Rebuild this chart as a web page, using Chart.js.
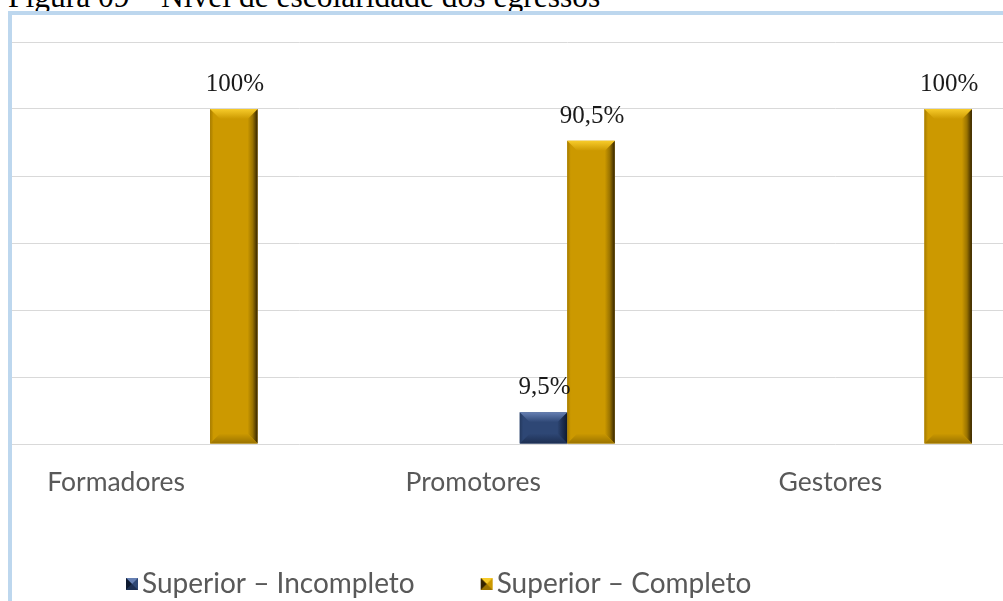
<!DOCTYPE html>
<html><head><meta charset="utf-8">
<script src="https://cdn.jsdelivr.net/npm/chart.js@4"></script>
<style>
html,body{margin:0;padding:0;background:#fff;overflow:hidden;width:1003px;height:601px;}
#title{position:absolute;left:8px;top:-19px;font:31.5px/31px "Liberation Serif","Times New Roman",serif;color:#000;white-space:nowrap;}
#frame{position:absolute;left:8px;top:11px;width:1100px;height:700px;border-left:4px solid #bdd7ee;border-top:4px solid #bdd7ee;}
#wrap{position:absolute;left:0;top:0;width:1103px;height:601px;}
</style></head><body>
<div id="title">Figura 09 – Nível de escolaridade dos egressos</div>
<div id="frame"></div>
<div id="wrap"><canvas id="c"></canvas></div>
<script>
// ---- data ----
const categories = ['Formadores', 'Promotores', 'Gestores'];
const seriesNames = ['Superior – Incompleto', 'Superior – Completo'];
const incompleto = [null, 9.5, null];
const completo = [100, 90.5, 100];
const yTickValues = [0, 20, 40, 60, 80, 100, 120];

// ---- styles ----
const NAVY = {base:'#2e4775', light:'#6680b3', dark:'#0e1a30', bottom:'#1d2f52', left:'#24395f'};
const GOLD = {base:'#cc9900', light:'#f7cb2a', dark:'#332300', bottom:'#9a7300', left:'#a57b00'};
const palettes = [NAVY, GOLD];
const GRID = '#d9d9d9';
const LEG_PAD = 66;          // spacing between legend items
const LEG_START = 126;       // x of first legend item
const FRAME_X = 12;

function legendIcon(p){
  const c = document.createElement('canvas'); c.width = 24; c.height = 12;
  const g = c.getContext('2d');
  const l = 11, r = 23, t = 0, b = 12, cx = 17, cy = 6;
  g.fillStyle = p.base; g.fillRect(l, t, 12, 12);
  g.fillStyle = p.light; g.beginPath(); g.moveTo(l,t); g.lineTo(r,t); g.lineTo(cx,cy); g.closePath(); g.fill();
  g.fillStyle = p.bottom; g.beginPath(); g.moveTo(l,b); g.lineTo(r,b); g.lineTo(cx,cy); g.closePath(); g.fill();
  g.fillStyle = p.dark; g.beginPath(); g.moveTo(l,t); g.lineTo(l,b); g.lineTo(cx,cy); g.closePath(); g.fill();
  return c;
}
const icons = palettes.map(legendIcon);

function poly(ctx, pts, fill){
  ctx.beginPath(); ctx.moveTo(pts[0][0], pts[0][1]);
  for (let i = 1; i < pts.length; i++) ctx.lineTo(pts[i][0], pts[i][1]);
  ctx.closePath(); ctx.fillStyle = fill; ctx.fill();
}
function bevel(ctx, el, p){
  const w = el.width, l = el.x - w/2, r = el.x + w/2;
  const t = Math.min(el.y, el.base), bot = Math.max(el.y, el.base);
  const h = bot - t; if (!(h > 0) || !isFinite(h)) return;
  const b = Math.min(10, h/2.6, w/3);
  let gr = ctx.createLinearGradient(l, 0, l + b, 0);
  gr.addColorStop(0, p.left); gr.addColorStop(0.35, p.base); gr.addColorStop(1, p.base);
  poly(ctx, [[l,t],[l+b,t+b],[l+b,bot-b],[l,bot]], gr);
  gr = ctx.createLinearGradient(r - b, 0, r, 0);
  gr.addColorStop(0, p.base); gr.addColorStop(0.5, p.bottom); gr.addColorStop(1, p.dark);
  poly(ctx, [[r,t],[r,bot],[r-b,bot-b],[r-b,t+b]], gr);
  gr = ctx.createLinearGradient(0, t, 0, t + b);
  gr.addColorStop(0, p.light); gr.addColorStop(1, p.base);
  poly(ctx, [[l,t],[r,t],[r-b,t+b],[l+b,t+b]], gr);
  gr = ctx.createLinearGradient(0, bot - b, 0, bot);
  gr.addColorStop(0, p.base); gr.addColorStop(1, p.bottom);
  poly(ctx, [[l,bot],[r,bot],[r-b,bot-b],[l+b,bot-b]], gr);
}

const bevelPlugin = {
  id: 'bevel',
  afterDatasetsDraw(chart){
    const ctx = chart.ctx;
    ctx.save();
    chart.data.datasets.forEach((ds, di) => {
      const meta = chart.getDatasetMeta(di);
      meta.data.forEach((el, i) => {
        if (ds.data[i] == null) return;
        bevel(ctx, el, palettes[di]);
      });
    });
    ctx.font = '25px "Liberation Serif", "Times New Roman", serif';
    ctx.fillStyle = '#1a1a1a';
    ctx.textAlign = 'center';
    ctx.textBaseline = 'alphabetic';
    chart.data.datasets.forEach((ds, di) => {
      const meta = chart.getDatasetMeta(di);
      meta.data.forEach((el, i) => {
        const v = ds.data[i];
        if (v == null) return;
        ctx.fillText(String(v).replace('.', ',') + '%', el.x + 1, el.y - 18);
      });
    });
    ctx.restore();
  }
};

const gridExtend = {
  id: 'gridExtend',
  beforeDatasetsDraw(chart){
    const y = chart.scales.y, ctx = chart.ctx;
    ctx.save();
    ctx.strokeStyle = GRID; ctx.lineWidth = 1;
    y.ticks.forEach(tk => {
      const py = Math.round(y.getPixelForValue(tk.value) - 0.5) + 0.5;
      ctx.beginPath(); ctx.moveTo(FRAME_X, py); ctx.lineTo(chart.chartArea.left + 1, py); ctx.stroke();
    });
    ctx.restore();
  }
};

const legendShift = {
  id: 'legendShift',
  afterLayout(chart){
    const lg = chart.legend;
    if (!lg) return;
    lg.left = LEG_START - LEG_PAD;
    lg.top += 7; lg.bottom += 7;
  }
};

new Chart(document.getElementById('c'), {
  type: 'bar',
  data: {
    labels: categories,
    datasets: [
      {label: seriesNames[0], data: incompleto, backgroundColor: NAVY.base, borderWidth: 0,
       categoryPercentage: 0.266, barPercentage: 1},
      {label: seriesNames[1], data: completo, backgroundColor: GOLD.base, borderWidth: 0,
       categoryPercentage: 0.266, barPercentage: 1}
    ]
  },
  options: {
    responsive: true,
    maintainAspectRatio: false,
    animation: false,
    devicePixelRatio: 1,
    layout: {padding: {left: 31.5, top: 42, right: 0, bottom: 0}},
    plugins: {
      tooltip: {enabled: false},
      legend: {
        position: 'bottom',
        align: 'start',
        labels: {
          color: '#595959',
          font: {family: 'Lato', size: 28},
          usePointStyle: true,
          boxWidth: 2,
          boxHeight: 12,
          padding: LEG_PAD,
          generateLabels(chart){
            const items = Chart.defaults.plugins.legend.labels.generateLabels(chart);
            items.forEach((it, i) => { it.pointStyle = icons[i]; it.fontColor = '#595959'; });
            return items;
          }
        }
      }
    },
    scales: {
      x: {
        offset: true,
        grid: {display: false, drawTicks: false},
        border: {display: false},
        ticks: {color: '#595959', font: {family: 'Lato', size: 26.5}, padding: 23,
                labelOffset: -94, autoSkip: false, maxRotation: 0},
        afterFit(scale){ scale.height = 119 - LEG_PAD; }
      },
      y: {
        min: 0, max: 120,
        afterBuildTicks(scale){ scale.ticks = yTickValues.map(v => ({value: v})); },
        grid: {color: GRID, drawTicks: false, lineWidth: 1},
        border: {display: false},
        ticks: {display: false},
        afterFit(scale){ scale.width = 0; }
      }
    }
  },
  plugins: [gridExtend, bevelPlugin, legendShift]
});
</script>
</body></html>
